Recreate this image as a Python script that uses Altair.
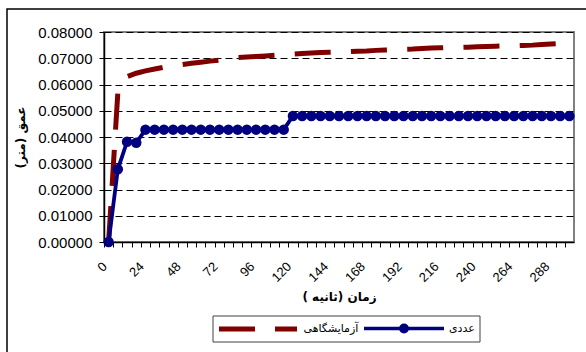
import altair as alt
import pandas as pd

# ---- data ----
time_s = [0, 6, 12, 18, 24, 30, 36, 42, 48, 54, 60, 66, 72, 78, 84, 90, 96,
          102, 108, 114, 120, 126, 132, 138, 144, 150, 156, 162, 168, 174,
          180, 186, 192, 198, 204, 210, 216, 222, 228, 234, 240, 246, 252,
          258, 264, 270, 276, 282, 288, 294, 300]

experimental = [0.0000, 0.0568, 0.0630, 0.0643, 0.0652, 0.0659, 0.0666,
                0.0671, 0.0676, 0.0681, 0.0685, 0.0689, 0.0693, 0.0698,
                0.0703, 0.0705, 0.0707, 0.0709, 0.0711, 0.0713, 0.0716,
                0.0718, 0.0720, 0.0722, 0.0723, 0.0724, 0.0725, 0.0727,
                0.0728, 0.0730, 0.0731, 0.0732, 0.0734, 0.0735, 0.0737,
                0.0739, 0.0740, 0.0741, 0.0741, 0.0742, 0.0744, 0.0745,
                0.0746, 0.0747, 0.0748, 0.0749, 0.0750, 0.0752, 0.0754,
                0.0756, 0.0757]

numerical = [0.0000, 0.0277, 0.0382, 0.0378,
             0.0428, 0.0428, 0.0428, 0.0428, 0.0428, 0.0428, 0.0428, 0.0428,
             0.0428, 0.0428, 0.0428, 0.0428, 0.0428, 0.0428, 0.0428, 0.0428,
             0.0480, 0.0480, 0.0480, 0.0480, 0.0480, 0.0480, 0.0480, 0.0480,
             0.0480, 0.0480, 0.0480, 0.0480, 0.0480, 0.0480, 0.0480, 0.0480,
             0.0480, 0.0480, 0.0480, 0.0480, 0.0480, 0.0480, 0.0480, 0.0480,
             0.0480, 0.0480, 0.0480, 0.0480, 0.0480, 0.0480, 0.0480]

y_ticks = [0.0, 0.01, 0.02, 0.03, 0.04, 0.05, 0.06, 0.07, 0.08]

name_exp = "آزمایشگاهی"
name_num = "عددی"
x_title = "زمان (ثانیه )\u200f"
y_title = "عمق (متر)\u200f"

df_exp = pd.DataFrame({"t": time_s, "v": experimental, "s": name_exp})
df_num = pd.DataFrame({"t": time_s, "v": numerical, "s": name_num})

W, H = 470, 210
step = W / len(time_s)
ARABIC = "DejaVu Sans"

x_enc = alt.X(
    "t:O",
    scale=alt.Scale(domain=time_s, padding=0.5),
    axis=alt.Axis(
        title=x_title,
        titleFont=ARABIC, titleFontSize=12, titleFontWeight="bold",
        titleColor="black", titleY=54, titleBaseline="middle",
        labelExpr="datum.value % 24 === 0 ? datum.label : ''",
        labelAngle=-45, labelAlign="right", labelBaseline="middle",
        labelPadding=17, labelOffset=0.6, tickOffset=-step / 2,
        labelOverlap=False, labelFontSize=13, labelColor="black",
        labelFont="Liberation Sans",
        tickSize=5, tickColor="black", domainColor="black", domainWidth=1.5,
        grid=False,
    ),
)

y_enc = alt.Y(
    "v:Q",
    scale=alt.Scale(domain=[0, 0.08], nice=False),
    axis=alt.Axis(
        title=y_title,
        titleFont=ARABIC, titleFontSize=12, titleFontWeight="bold",
        titleColor="black", titleX=-84, titleY=H / 2, titleAngle=-90,
        titleBaseline="middle", titleAlign="center",
        values=y_ticks, format=".5f",
        labelFont="Liberation Sans", labelFontSize=15, labelColor="black",
        labelPadding=7,
        tickSize=5, tickColor="black", domainColor="black", domainWidth=1.5,
        grid=True, gridDash=[7, 4], gridColor="black", gridWidth=1,
    ),
)

red = alt.Chart(df_exp).mark_line(
    strokeWidth=5, strokeDash=[36, 20.3], strokeCap="butt"
).encode(
    x=x_enc, y=y_enc,
    color=alt.Color(
        "s:N",
        scale=alt.Scale(domain=[name_exp], range=["#800000"]),
        legend=alt.Legend(
            title=None, orient="none", legendX=112.5, legendY=255.5,
            direction="horizontal", padding=0,
            symbolType="M-1,0H1", symbolSize=6084, symbolStrokeWidth=5,
            symbolDash=[36, 20], labelOffset=4,
            labelFont=ARABIC, labelFontSize=11, labelColor="black",
        ),
    ),
)

blue_line = alt.Chart(df_num).mark_line(strokeWidth=3.8).encode(
    x=x_enc, y=y_enc,
    stroke=alt.Stroke(
        "s:N",
        scale=alt.Scale(domain=[name_num], range=["#000080"]),
        legend=alt.Legend(
            title=None, orient="none", legendX=258, legendY=254.5,
            direction="horizontal", padding=0,
            symbolType="M-1,0H1M0.08,0A0.08,0.08,0,1,1,-0.08,0A0.08,0.08,0,1,1,0.08,0Z",
            symbolSize=6400, symbolStrokeWidth=3.5,
            symbolFillColor="#000080", labelOffset=3,
            labelFont=ARABIC, labelFontSize=11, labelColor="black",
        ),
    ),
)

blue_pts = alt.Chart(df_num).mark_point(
    filled=True, size=110, color="#000080", opacity=1
).encode(x=x_enc, y=y_enc)

one = pd.DataFrame({"k": [1]})
outer_frame = alt.Chart(one).mark_rect(
    fillOpacity=0, stroke="black", strokeWidth=1.5
).encode(x=alt.value(-97), x2=alt.value(700), y=alt.value(-23), y2=alt.value(600))

legend_frame = alt.Chart(one).mark_rect(
    fillOpacity=0, stroke="#404040", strokeWidth=1
).encode(x=alt.value(109), x2=alt.value(376), y=alt.value(284), y2=alt.value(310))

chart = alt.layer(red, blue_line, blue_pts, outer_frame, legend_frame).properties(
    width=W, height=H,
    padding={"left": 104, "top": 32, "right": 12, "bottom": 110},
    autosize=alt.AutoSizeParams(type="none"),
    background="white",
).configure_view(stroke="#808080", strokeWidth=2)

chart.save("out.html", embed_options={"renderer": "svg", "actions": False})
